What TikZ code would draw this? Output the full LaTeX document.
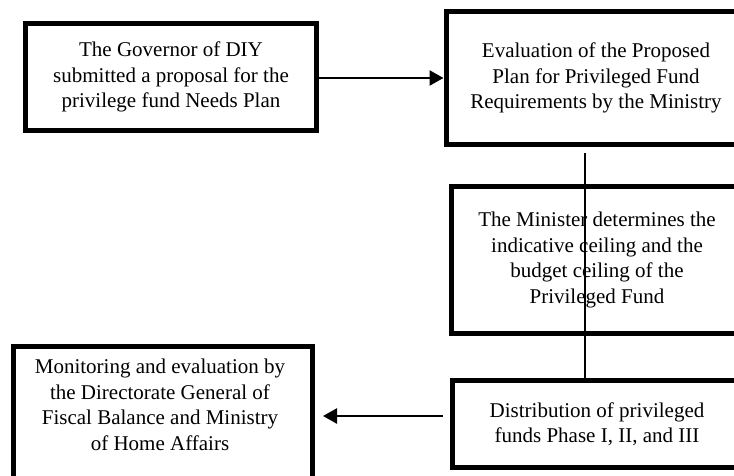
\documentclass[tikz,border=0pt]{standalone}
\usepackage{fontspec}
\setmainfont{Liberation Serif}
\usetikzlibrary{arrows.meta}
\begin{document}
\begin{tikzpicture}[x=1pt,y=1pt,
  box/.style={draw=black, line width=5pt, fill=white, inner sep=0pt, align=center,
    font=\fontsize{21}{25.5}\selectfont},
  txt/.style={inner sep=0pt, align=center, font=\fontsize{21}{25.5}\selectfont},
  arr/.style={line width=2.5pt, -{Triangle[length=14pt,width=15pt]}},
  vline/.style={line width=1.6pt}]
\useasboundingbox (0,0) rectangle (734,-476);
\clip (0,0) rectangle (734,-476);
\fill[white] (0,0) rectangle (734,-476);
\node[box, minimum width=291, minimum height=107] (b1) at (171,-77)
  {The Governor of DIY\\submitted a proposal for the\\privilege fund Needs Plan};
\node[box, minimum width=300, minimum height=133] (b2) at (596,-78)
  {Evaluation of the Proposed\\Plan for Privileged Fund\\Requirements by the Ministry};
\node[box, minimum width=291, minimum height=146] (b3) at (597,-260)
  {The Minister determines the\\indicative ceiling and the\\budget ceiling of the\\Privileged Fund};
\node[box, minimum width=289, minimum height=87] (b4) at (597,-424)
  {Distribution of privileged\\funds Phase I, II, and III};
\node[box, minimum width=299, minimum height=141] (b5) at (163,-417) {};
\node[txt] (t5) at (160,-405) {Monitoring and evaluation by\\the Directorate General of\\Fiscal Balance and Ministry\\of Home Affairs};
\draw[arr] ([yshift=-1pt]b1.east) -- ([yshift=-1pt]b1.east -| b2.west);
\draw[vline, shorten <=6pt] ([xshift=-11pt]b2.south) -- ([xshift=-11pt]b2.south |- b4.north);
\draw[arr, shorten <=7pt, shorten >=8pt] ([yshift=8pt]b4.west) -- ([yshift=8pt]b4.west -| b5.east);
\end{tikzpicture}
\end{document}
